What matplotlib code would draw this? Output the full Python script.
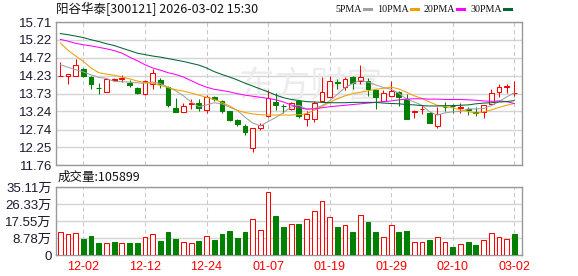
import numpy as np
import matplotlib
matplotlib.use('Agg')
import matplotlib.pyplot as plt
from matplotlib.patches import Rectangle

plt.rcParams['font.family'] = ['Noto Sans CJK SC', 'DejaVu Sans']

# chart data (price in yuan, volume in 万)
title = '阳谷华泰[300121] 2026-03-02 15:30'
date_idx = [3, 11, 19, 27, 35, 43, 51, 59]
date_labels = ['12-02', '12-12', '12-24', '01-07', '01-19', '01-29', '02-10', '03-02']
price_ticks = [11.76, 12.25, 12.74, 13.24, 13.73, 14.23, 14.72, 15.22, 15.71]
vol_ticks = [0, 8.78, 17.55, 26.33, 35.11]
vol_tick_labels = ['0', '8.78万', '17.55万', '26.33万', '35.11万']

opens = [14.23, 14.21, 14.23, 14.41, 14.20, 13.90, 13.79, 14.11, 14.14, 14.03,
         13.90, 13.72, 14.01, 14.12, 13.91, 13.34, 13.23, 13.44, 13.48, 13.27,
         13.65, 13.53, 13.25, 13.01, 12.84, 12.24, 12.77, 13.10, 13.49, 13.40,
         13.30, 13.53, 13.04, 13.03, 13.53, 13.65, 14.04, 13.92, 14.20, 14.08,
         14.09, 13.83, 13.53, 13.67, 13.78, 13.59, 13.22, 13.30, 13.21, 12.84,
         13.37, 13.39, 13.34, 13.30, 13.23, 13.23, 13.44, 13.78, 13.91, 13.74]
closes = [14.23, 14.28, 14.52, 14.21, 13.99, 13.88, 14.14, 14.13, 14.16, 13.96,
          13.74, 14.09, 14.29, 13.99, 13.43, 13.23, 13.40, 13.46, 13.34, 13.65,
          13.57, 13.25, 13.01, 12.89, 12.66, 12.77, 12.87, 13.62, 13.43, 13.38,
          13.48, 13.12, 13.16, 13.48, 13.78, 14.09, 14.02, 14.14, 14.03, 14.20,
          13.85, 13.65, 13.76, 13.80, 13.65, 13.04, 13.24, 13.32, 12.92, 13.16,
          13.35, 13.38, 13.36, 13.28, 13.19, 13.41, 13.76, 13.91, 13.93, 13.74]
highs = [14.60, 14.28, 14.69, 14.44, 14.21, 14.03, 14.16, 14.16, 14.25, 14.12,
         13.92, 14.10, 14.41, 14.16, 13.94, 13.62, 13.46, 13.57, 13.57, 13.68,
         13.67, 13.55, 13.26, 13.03, 12.88, 12.78, 12.92, 13.83, 13.74, 13.44,
         13.49, 13.55, 13.25, 13.53, 14.18, 14.21, 14.14, 14.20, 14.21, 14.53,
         14.17, 13.84, 13.83, 14.08, 13.80, 13.71, 13.27, 13.41, 13.22, 13.35,
         13.50, 13.45, 13.46, 13.35, 13.37, 13.43, 13.87, 14.01, 14.01, 14.07]
lows = [14.23, 14.01, 14.23, 14.19, 13.87, 13.73, 13.78, 14.08, 14.05, 13.92,
        13.73, 13.69, 13.85, 13.88, 13.37, 13.22, 13.22, 13.30, 13.24, 13.20,
        13.53, 13.21, 12.97, 12.84, 12.59, 12.11, 12.73, 13.09, 13.28, 13.21,
        13.29, 13.05, 12.84, 12.94, 13.53, 13.65, 13.85, 13.83, 13.87, 14.01,
        13.67, 13.30, 13.53, 13.66, 13.39, 13.04, 13.07, 13.16, 12.91, 12.77,
        13.25, 13.21, 13.21, 13.15, 13.10, 13.07, 13.41, 13.65, 13.76, 13.66]
volumes = [11.65, 10.62, 11.13, 8.22, 9.76, 6.17, 6.00, 6.68, 6.00, 6.17,
           6.17, 9.08, 10.62, 7.19, 11.82, 8.22, 6.50, 6.00, 7.19, 9.59,
           7.88, 10.79, 12.33, 8.74, 11.82, 18.33, 12.85, 32.72, 20.04, 14.39,
           15.76, 15.93, 18.84, 22.60, 27.75, 19.87, 14.39, 15.25, 11.82, 20.90,
           16.96, 11.82, 9.08, 15.25, 11.82, 12.33, 6.50, 6.50, 7.71, 9.08,
           6.50, 4.11, 5.48, 6.68, 5.14, 7.54, 11.13, 9.08, 8.05, 10.59]
vol_up = [1, 1, 1, 0, 0, 0, 1, 0, 1, 0, 0, 1, 1, 0, 0, 0, 1, 1, 0, 1,
          0, 0, 0, 0, 0, 1, 1, 1, 0, 0, 1, 0, 1, 1, 1, 1, 0, 1, 0, 1,
          0, 0, 1, 1, 0, 0, 1, 1, 0, 1, 1, 0, 1, 0, 0, 1, 1, 1, 1, 0]
ma5 = [14.53, 14.46, 14.39, 14.33, 14.25, 14.18, 14.15, 14.07, 14.06, 14.05,
       14.03, 14.02, 14.05, 14.01, 13.91, 13.81, 13.67, 13.50, 13.37, 13.42,
       13.48, 13.45, 13.36, 13.27, 13.08, 12.92, 12.84, 12.96, 13.07, 13.21,
       13.36, 13.41, 13.31, 13.32, 13.40, 13.53, 13.71, 13.90, 14.01, 14.10,
       14.05, 13.97, 13.90, 13.85, 13.74, 13.58, 13.50, 13.41, 13.23, 13.14,
       13.20, 13.23, 13.24, 13.31, 13.31, 13.32, 13.40, 13.51, 13.64, 13.75]
ma10 = [15.13, 14.93, 14.77, 14.62, 14.44, 14.31, 14.27, 14.24, 14.19, 14.14,
        14.08, 14.04, 14.02, 13.96, 13.90, 13.84, 13.80, 13.75, 13.69, 13.63,
        13.57, 13.49, 13.39, 13.27, 13.21, 13.17, 13.15, 13.14, 13.14, 13.14,
        13.14, 13.15, 13.18, 13.27, 13.37, 13.49, 13.59, 13.67, 13.73, 13.77,
        13.81, 13.85, 13.88, 13.91, 13.86, 13.77, 13.67, 13.60, 13.50, 13.41,
        13.37, 13.34, 13.28, 13.24, 13.19, 13.23, 13.28, 13.35, 13.41, 13.46]
ma20 = [15.23, 15.18, 15.12, 15.08, 15.05, 15.01, 14.97, 14.92, 14.85, 14.74,
        14.64, 14.53, 14.44, 14.38, 14.31, 14.26, 14.19, 14.09, 13.99, 13.91,
        13.85, 13.82, 13.78, 13.73, 13.69, 13.66, 13.63, 13.60, 13.56, 13.50,
        13.42, 13.35, 13.30, 13.31, 13.34, 13.37, 13.39, 13.41, 13.43, 13.45,
        13.47, 13.49, 13.51, 13.53, 13.56, 13.58, 13.59, 13.59, 13.58, 13.58,
        13.57, 13.57, 13.57, 13.56, 13.55, 13.53, 13.52, 13.53, 13.51, 13.46]
ma30 = [15.39, 15.36, 15.32, 15.28, 15.22, 15.17, 15.11, 15.06, 14.99, 14.92,
        14.85, 14.81, 14.77, 14.74, 14.70, 14.66, 14.62, 14.57, 14.52, 14.44,
        14.34, 14.26, 14.19, 14.11, 14.02, 13.94, 13.86, 13.78, 13.69, 13.62,
        13.57, 13.54, 13.51, 13.50, 13.49, 13.48, 13.48, 13.48, 13.49, 13.49,
        13.49, 13.49, 13.47, 13.46, 13.45, 13.43, 13.42, 13.40, 13.39, 13.39,
        13.40, 13.40, 13.41, 13.42, 13.45, 13.47, 13.48, 13.50, 13.51, 13.54]
last_volume = '105899'

RED = '#ff0000'
GREEN = '#008000'
GRID = '#d4d4d4'
FRAME = '#999999'
ma_names = ['5PMA', '10PMA', '20PMA', '30PMA']
ma_colors = ['#a0a0a0', '#f0a000', '#ff00ff', '#006633']

x = np.arange(len(closes))
W = 0.62
LW = 0.75
FW, FH = 578, 276

fig = plt.figure(figsize=(5.78, 2.76), dpi=100)
ax = fig.add_axes([56 / FW, 1 - 165 / FH, 466 / FW, 143 / FH])
axv = fig.add_axes([56 / FW, 1 - 255 / FH, 466 / FW, 68 / FH])

for a in (ax, axv):
    a.set_xlim(-0.56, 60.0)
    for s in a.spines.values():
        s.set_color(FRAME)
        s.set_linewidth(1)
    a.set_axisbelow(True)
    for d in date_idx:
        a.axvline(d, color='#c8c8c8', lw=LW, ls=(0, (4, 3)), zorder=0.5)
    a.tick_params(length=0, labelsize=9)

# price panel
ax.set_ylim(price_ticks[0], price_ticks[-1])
ax.set_yticks(price_ticks)
ax.set_yticklabels(['%.2f' % t for t in price_ticks], family='Liberation Sans',
                   fontsize=9.5, color='#1a1a2e')
ax.yaxis.grid(True, color=GRID, lw=1)
ax.set_xticks([])
ax.tick_params(axis='y', pad=3)

ax.text(311 / FW, 1 - 88 / FH, '东方财富', transform=fig.transFigure, fontsize=26,
        color='#ececec', ha='center', va='center', zorder=0.6)

for i in x:
    o, c, h, l = opens[i], closes[i], highs[i], lows[i]
    lo, hi = min(o, c), max(o, c)
    if c >= o:
        ax.vlines(i, l, lo, color=RED, lw=LW, zorder=3)
        ax.vlines(i, hi, h, color=RED, lw=LW, zorder=3)
        if hi - lo < 0.015:
            ax.hlines(c, i - W / 2, i + W / 2, color=RED, lw=LW, zorder=3)
        else:
            ax.add_patch(Rectangle((i - W / 2, lo), W, hi - lo, facecolor='white',
                                   edgecolor=RED, lw=LW, zorder=3))
    else:
        ax.vlines(i, l, h, color=GREEN, lw=LW, zorder=3)
        if hi - lo < 0.015:
            ax.hlines(c, i - W / 2, i + W / 2, color=GREEN, lw=LW, zorder=3)
        else:
            ax.add_patch(Rectangle((i - W / 2, lo), W, hi - lo, facecolor=GREEN,
                                   edgecolor=GREEN, lw=LW, zorder=3))

for vals, col in zip([ma5, ma10, ma20, ma30], ma_colors):
    ax.plot(x, vals, color=col, lw=LW, zorder=4)

# title and MA legend
fig.text(56 / FW, 1 - 9 / FH, title, fontsize=9, va='center', ha='left', color='#111111')
leg_dash_x = [364, 411, 457, 504]
for dx, name, col in zip(leg_dash_x, ma_names, ma_colors):
    fig.text((dx - 2) / FW, 1 - 9 / FH, name, fontsize=7.2, va='center', ha='right',
             family='Liberation Serif', color='#111111')
    fig.add_artist(plt.Line2D([dx / FW, (dx + 7) / FW], [1 - 9 / FH, 1 - 9 / FH],
                              color=col, lw=2.2))

# volume panel
axv.set_ylim(0, vol_ticks[-1])
axv.set_yticks(vol_ticks)
axv.set_yticklabels(vol_tick_labels, fontsize=9.5, color='#1a1a2e',
                    family=['Liberation Sans', 'Noto Sans CJK SC'])
axv.yaxis.grid(True, color=GRID, lw=1)
axv.tick_params(axis='y', pad=3)
axv.set_xticks(date_idx)
axv.set_xticklabels(date_labels, color=RED, fontsize=9, family='Liberation Sans')
axv.tick_params(axis='x', pad=4)

face = ['white' if u else GREEN for u in vol_up]
edge = [RED if u else GREEN for u in vol_up]
axv.bar(x, volumes, width=W, color=face, edgecolor=edge, linewidth=LW, zorder=3)

fig.text(58 / FW, 1 - 177 / FH, '成交量:' + last_volume, fontsize=9, va='center',
         ha='left', color='#111111')

fig.savefig('out.png', dpi=100)
